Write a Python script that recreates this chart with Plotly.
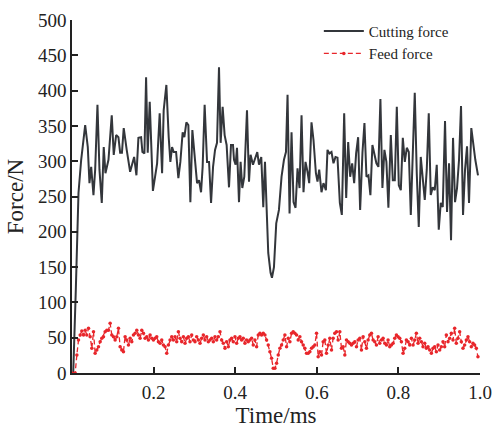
import numpy as np
import plotly.graph_objects as go

# ---- Cutting force (time in ms, force in N) ----
cut_time = [0, 0.003, 0.0093, 0.0159, 0.0225, 0.0323, 0.0387, 0.0428, 0.0470, 0.0526, 0.0568,
            0.0624, 0.0673, 0.0730, 0.0778, 0.0820, 0.0894, 0.0974, 0.1023, 0.1082, 0.1138,
            0.1180, 0.1224, 0.1268, 0.1341, 0.1425, 0.1481, 0.1523, 0.1579, 0.1628, 0.1694,
            0.1726, 0.1775, 0.1816, 0.1856, 0.1905, 0.1983, 0.2086, 0.2149, 0.2208, 0.2247,
            0.2313, 0.2370, 0.2411, 0.2453, 0.2492, 0.2551, 0.2607, 0.2656, 0.2712, 0.2754,
            0.2803, 0.2852, 0.2901, 0.2950, 0.3006, 0.3065, 0.3114, 0.3163, 0.3202, 0.3251,
            0.3310, 0.3359, 0.3408, 0.3457, 0.3506, 0.3554, 0.3603, 0.3643, 0.3692, 0.3741,
            0.3790, 0.3848, 0.3897, 0.3946, 0.3971, 0.4010, 0.4044, 0.4093, 0.4132, 0.4174,
            0.4223, 0.4289, 0.4338, 0.4377, 0.4436, 0.4485, 0.4541, 0.4583, 0.4639, 0.4688,
            0.4730, 0.4778, 0.4810, 0.4867, 0.4901, 0.4950, 0.5006, 0.5072, 0.5136, 0.5195,
            0.5244, 0.5283, 0.5332, 0.5381, 0.5430, 0.5479, 0.5528, 0.5577, 0.5626, 0.5674,
            0.5723, 0.5772, 0.5814, 0.5870, 0.5919, 0.5978, 0.6017, 0.6059, 0.6115, 0.6164,
            0.6223, 0.6262, 0.6311, 0.6360, 0.6409, 0.6458, 0.6507, 0.6565, 0.6614, 0.6671,
            0.6720, 0.6769, 0.6818, 0.6867, 0.6916, 0.6964, 0.7013, 0.7062, 0.7119, 0.7168,
            0.7217, 0.7266, 0.7314, 0.7363, 0.7412, 0.7461, 0.7510, 0.7559, 0.7608, 0.7657,
            0.7706, 0.7755, 0.7814, 0.7863, 0.7912, 0.7961, 0.8010, 0.8059, 0.8108, 0.8157,
            0.8206, 0.8255, 0.8304, 0.8352, 0.8401, 0.8450, 0.8499, 0.8548, 0.8597, 0.8646,
            0.8695, 0.8744, 0.8793, 0.8842, 0.8891, 0.8940, 0.8989, 0.9038, 0.9087, 0.9143,
            0.9192, 0.9241, 0.9290, 0.9339, 0.9388, 0.9437, 0.9486, 0.9535, 0.9584, 0.9633,
            0.9682, 0.9731, 0.9787, 0.9836, 0.9885, 0.9951]
cut_force = [0, 0, 117, 255, 302, 351, 320, 269, 292, 252, 288,
             380, 288, 241, 320, 283, 302, 365, 309, 337, 334,
             312, 312, 347, 316, 285, 297, 306, 280, 333, 334,
             313, 311, 419, 312, 384, 258, 297, 368, 283, 372,
             408, 334, 299, 320, 313, 313, 276, 299, 341, 334,
             355, 351, 242, 344, 302, 269, 273, 256, 292, 380,
             299, 299, 241, 292, 316, 326, 433, 326, 377, 337,
             323, 263, 323, 323, 302, 295, 319, 242, 299, 262,
             278, 372, 271, 309, 295, 305, 313, 295, 306, 235,
             299, 221, 170, 142, 135, 150, 212, 231, 278, 302,
             313, 394, 226, 341, 242, 234, 290, 262, 365, 256,
             299, 285, 269, 355, 330, 283, 271, 288, 256, 269,
             259, 316, 311, 313, 297, 306, 305, 241, 224, 368,
             248, 327, 278, 297, 269, 311, 334, 231, 312, 354,
             278, 280, 252, 323, 311, 297, 292, 388, 262, 316,
             299, 234, 337, 273, 273, 377, 266, 259, 333, 299,
             319, 313, 224, 302, 397, 283, 207, 306, 276, 245,
             288, 368, 252, 263, 259, 295, 203, 241, 235, 357,
             228, 297, 188, 333, 242, 262, 302, 378, 224, 288,
             321, 241, 347, 323, 302, 280]

# ---- Feed force (uniformly sampled) ----
feed_force = [0, 25.5, 46.7, 53.8, 59.5, 53.8, 60.4, 53.8, 63.3, 51.5,
              34.9, 58.5, 27.9, 32.6, 37.3, 44.4, 49.1, 51.5, 58.5, 60.4,
              60.4, 70.4, 53.8, 51.5, 46.7, 51.5, 63.3, 37.3, 32.6, 30.2,
              51.5, 46.7, 39.7, 49.1, 44.4, 53.8, 56.2, 60.4, 53.8, 49.1,
              60.4, 56.2, 49.1, 51.5, 46.7, 53.8, 49.1, 46.7, 49.1, 51.5,
              44.4, 42.0, 46.7, 39.7, 37.3, 27.9, 39.7, 46.7, 51.5, 46.7,
              51.5, 44.4, 58.5, 49.1, 44.4, 51.5, 42.0, 49.1, 51.5, 44.4,
              53.8, 46.7, 44.4, 51.5, 46.7, 42.0, 49.1, 53.8, 46.7, 51.5,
              44.4, 46.7, 49.1, 44.4, 51.5, 46.7, 51.5, 58.5, 46.7, 42.0,
              34.9, 44.4, 37.3, 46.7, 49.1, 44.4, 51.5, 42.0, 49.1, 51.5,
              46.7, 49.1, 42.0, 46.7, 44.4, 46.7, 49.1, 39.7, 46.7, 37.3,
              53.8, 56.2, 53.8, 56.2, 53.8, 46.7, 39.7, 30.2, 20.8, 6.6,
              6.6,
              13.7, 25.5, 34.9, 39.7, 46.7, 53.8, 37.3, 49.1, 44.4, 56.2,
              58.5, 56.2, 53.8, 46.7, 51.5, 44.4, 39.7, 34.9, 27.9, 27.9,
              30.2, 34.9, 37.3, 39.7, 56.2, 23.1, 30.2, 25.5, 44.4, 46.7,
              27.9, 39.7, 49.1, 32.6, 49.1, 56.2, 58.5, 46.7, 58.5, 34.9,
              37.3, 25.5, 46.7, 44.4, 42.0, 39.7, 42.0, 44.4, 37.3, 46.7,
              49.1, 32.6, 51.5, 44.4, 34.9, 46.7, 53.8, 56.2, 46.7, 44.4,
              39.7, 51.5, 42.0, 46.7, 49.1, 42.0, 39.7, 46.7, 37.3, 39.7,
              42.0, 49.1, 53.8, 51.5, 49.1, 44.4, 27.9, 34.9, 46.7, 44.4,
              39.7, 49.1, 39.7, 46.7, 56.2, 42.0, 49.1, 44.4, 37.3, 42.0,
              34.9, 37.3, 32.6, 27.9, 34.9, 37.3, 30.2, 39.7, 32.6, 37.3,
              44.4, 37.3, 53.8, 44.4, 49.1, 56.2, 46.7, 63.3, 42.0, 49.1,
              58.5, 44.4, 34.9, 39.7, 46.7, 51.5, 44.4, 37.3, 42.0, 39.7,
              34.9, 23.1]
feed_start, feed_end = 0.0078, 0.995
feed_time = [0.0] + list(np.linspace(feed_start, feed_end, len(feed_force)))
feed_force = [0.0] + feed_force

x_ticks = [0.2, 0.4, 0.6, 0.8, 1.0]
x_tick_text = ["0.2", "0.4", "0.6", "0.8", "1.0"]
y_ticks = [0, 50, 100, 150, 200, 250, 300, 350, 400, 450, 500]

FONT = "Liberation Serif"

fig = go.Figure()
fig.add_trace(go.Scatter(
    x=cut_time, y=cut_force, mode="lines", name="Cutting force",
    line=dict(color="#33363b", width=2)))
fig.add_trace(go.Scatter(
    x=feed_time, y=feed_force, mode="lines+markers", name="Feed force",
    line=dict(color="#e8262b", width=1.3, dash="5px,3px"),
    marker=dict(color="#e8262b", size=3.5)))

fig.update_layout(
    width=493, height=430,
    margin=dict(l=72, r=13, t=20, b=57),
    paper_bgcolor="white", plot_bgcolor="white",
    font=dict(family=FONT, size=19, color="#222222"),
    showlegend=True,
    legend=dict(x=0.605, y=1.015, xanchor="left", yanchor="top",
                bgcolor="rgba(0,0,0,0)", font=dict(family=FONT, size=15, color="#222222"),
                tracegroupgap=2, itemwidth=40),
    xaxis=dict(range=[0, 1.0], tickvals=x_ticks, ticktext=x_tick_text,
               ticks="inside", ticklen=6, tickwidth=1.5, tickcolor="#222222",
               showline=True, linecolor="#222222", linewidth=1.5,
               showgrid=False, zeroline=False, automargin=False,
               ticklabelstandoff=1,
               title=dict(text="Time/ms", standoff=4)),
    yaxis=dict(range=[0, 500], tickvals=y_ticks,
               ticks="inside", ticklen=6, tickwidth=1.5, tickcolor="#222222",
               showline=True, linecolor="#222222", linewidth=1.5,
               showgrid=False, zeroline=False, automargin=False,
               ticklabelstandoff=0,
               title=dict(text="Force/N", standoff=8)),
)

fig.write_html("out.html", config={"displayModeBar": False},
               post_script="document.body.style.margin='0px';document.body.style.overflow='hidden';")
